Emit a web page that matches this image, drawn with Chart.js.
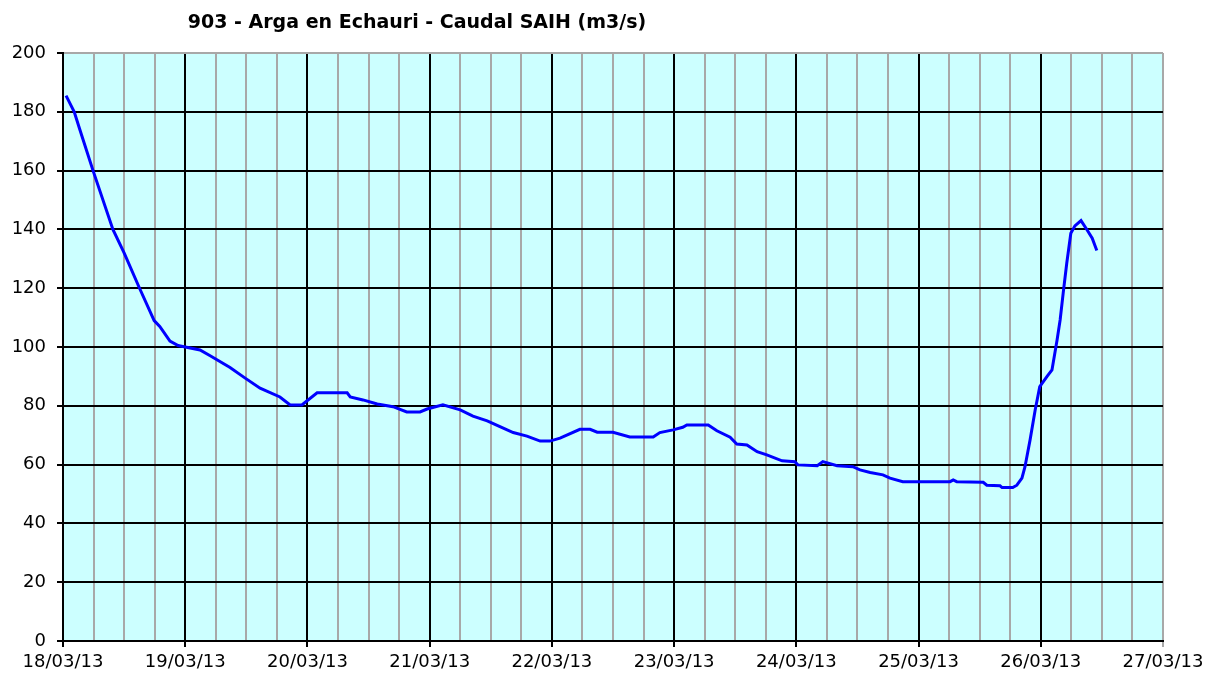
<!DOCTYPE html>
<html lang="es">
<head>
<meta charset="UTF-8">
<title>903 - Arga en Echauri - Caudal SAIH</title>
<script src="https://cdn.jsdelivr.net/npm/chart.js"></script>
<style>
    body { margin: 0; background: #fff; }
    canvas { display: block; }
</style>
</head>
<body>
<canvas id="caudal" width="1209" height="675"></canvas>
<script>
// hours since 18/03/13 00:00, flow in m3/s
const hours = [0.6, 2.2, 3.3, 5.9, 9.8, 12.0, 14.9, 17.9, 19.0, 21.0, 22.6, 24.0,
    26.9, 28.9, 32.8, 35.7, 38.7, 42.6, 44.6, 46.9, 49.9, 55.8, 56.4, 58.9,
    61.7, 64.8, 67.5, 70.1, 71.5, 74.6, 78.0, 80.5, 83.3, 85.8, 88.4, 91.1,
    93.7, 95.6, 97.6, 101.5, 103.5, 104.9, 108.0, 111.3, 115.9, 117.2, 119.8, 121.7,
    122.5, 126.7, 128.4, 131.0, 132.3, 134.3, 136.3, 138.2, 141.2, 143.7, 144.3, 148.1,
    149.2, 152.0, 155.1, 156.5, 158.5, 161.0, 162.4, 164.9, 174.2, 174.8, 175.5, 180.7,
    181.4, 184.0, 184.4, 186.5, 187.3, 188.3, 188.9, 189.9, 190.9, 191.8, 193.2, 194.2,
    195.2, 195.8, 196.4, 197.1, 197.9, 198.7, 199.9, 201.1, 202.1, 203.0];
const flow = [185.5, 180, 174, 160, 140, 132, 120.5, 109, 107, 102, 100.5, 100,
    99, 97, 93, 89.5, 86, 83, 80.3, 80.3, 84.4, 84.4, 83, 82,
    80.6, 79.7, 77.9, 77.9, 78.9, 80.3, 78.6, 76.5, 74.9, 72.9, 70.9, 69.7,
    68, 68, 69, 72, 72, 71, 71, 69.4, 69.4, 70.9, 71.8, 72.7,
    73.5, 73.5, 71.5, 69.3, 67, 66.7, 64.4, 63.3, 61.3, 61, 59.9, 59.6,
    61, 59.6, 59.3, 58.2, 57.3, 56.5, 55.4, 54.2, 54.2, 54.8, 54.2, 54,
    53, 52.8, 52.2, 52.2, 53, 55.4, 59.3, 68.4, 78.6, 86.5, 89.9, 92.2,
    102.4, 109.2, 118.3, 128.5, 138.7, 141.2, 143, 139.8, 137, 132.8];
const firstDay = 18;   // 18/03/13
const totalHours = 216; // up to 27/03/13
const yTicks = [0, 20, 40, 60, 80, 100, 120, 140, 160, 180, 200];

const chartTitle = "903 - Arga en Echauri - Caudal SAIH (m3/s)";
const tickFont = { family: "DejaVu Sans", size: 18 };

const plotBackground = {
    id: "plotBackground",
    beforeDraw(chart) {
        const { ctx, chartArea: a } = chart;
        ctx.save();
        ctx.fillStyle = "#CCFFFF";
        ctx.fillRect(a.left, a.top, a.right - a.left, a.bottom - a.top);
        ctx.restore();
    }
};

const titleText = {
    id: "titleText",
    afterDraw(chart) {
        const ctx = chart.ctx;
        ctx.save();
        ctx.font = "bold 19px 'DejaVu Sans'";
        ctx.fillStyle = "#000";
        ctx.textAlign = "center";
        ctx.textBaseline = "middle";
        ctx.fillText(chartTitle, 417, 23);
        ctx.restore();
    }
};

const points = hours.map((h, i) => ({ x: h, y: flow[i] }));

new Chart(document.getElementById("caudal"), {
    type: "scatter",
    data: {
        datasets: [{
            data: points,
            showLine: true,
            borderColor: "#0000FF",
            borderWidth: 3,
            pointRadius: 0,
            tension: 0
        }]
    },
    options: {
        responsive: false,
        animation: false,
        layout: { padding: { top: 53, right: 46, left: 0, bottom: 0 } },
        plugins: { legend: { display: false }, tooltip: { enabled: false } },
        scales: {
            x: {
                type: "linear",
                min: 0,
                max: totalHours,
                afterFit: s => { s.height = 34; },
                afterBuildTicks: s => {
                    s.ticks = [];
                    for (let v = 0; v <= totalHours; v += 6) s.ticks.push({ value: v });
                },
                ticks: {
                    autoSkip: false,
                    maxRotation: 0,
                    padding: 5,
                    color: "#000",
                    font: tickFont,
                    callback: v => v % 24 === 0 ? (firstDay + v / 24) + "/03/13" : ""
                },
                grid: {
                    lineWidth: 2,
                    tickLength: 6,
                    color: c => (c.tick && c.tick.value % 24 === 0 && c.tick.value !== totalHours) ? "#000" : "#A8A8A8",
                    tickColor: c => (c.tick && c.tick.value % 24 === 0) ? (c.tick.value === totalHours ? "#A8A8A8" : "#000") : "rgba(0,0,0,0)"
                },
                border: { color: "#000", width: 2 }
            },
            y: {
                min: 0,
                max: 200,
                afterFit: s => { s.width = 63; },
                afterBuildTicks: s => { s.ticks = yTicks.map(v => ({ value: v })); },
                ticks: { padding: 11, color: "#000", font: tickFont },
                grid: {
                    lineWidth: 2,
                    tickLength: 6,
                    color: c => (c.tick && c.tick.value === 200) ? "#A8A8A8" : "#000",
                    tickColor: "#000"
                },
                border: { color: "#000", width: 2 }
            }
        }
    },
    plugins: [plotBackground, titleText]
});
</script>
</body>
</html>
